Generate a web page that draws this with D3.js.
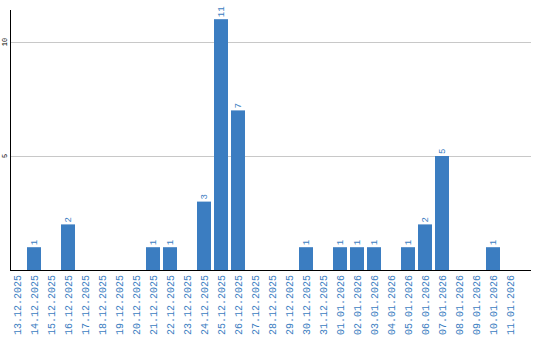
<!DOCTYPE html>
<html>
<head>
<meta charset="utf-8">
<script src="https://cdn.jsdelivr.net/npm/d3@7"></script>
<style>
  body { margin: 0; background: #fff; }
</style>
</head>
<body>
<svg width="540" height="340"></svg>
<script>
var dates = ["13.12.2025","14.12.2025","15.12.2025","16.12.2025","17.12.2025","18.12.2025",
  "19.12.2025","20.12.2025","21.12.2025","22.12.2025","23.12.2025","24.12.2025","25.12.2025",
  "26.12.2025","27.12.2025","28.12.2025","29.12.2025","30.12.2025","31.12.2025","01.01.2026",
  "02.01.2026","03.01.2026","04.01.2026","05.01.2026","06.01.2026","07.01.2026","08.01.2026",
  "09.01.2026","10.01.2026","11.01.2026"];
var counts = [0,1,0,2,0,0,0,0,1,1,0,3,11,7,0,0,0,1,0,1,1,1,0,1,2,5,0,0,1,0];
var yTicks = [5, 10];

var blue = "#3b7dc1";
var font = "Liberation Mono";
var svg = d3.select("svg");

var x = d3.scaleBand()
    .domain(dates)
    .range([8.5, 518.5])
    .paddingInner(3/17)
    .paddingOuter(3/34);
var y = d3.scaleLinear().domain([0, 260/22.8]).range([270, 10]);

// grid lines
svg.selectAll(".grid")
    .data(yTicks)
    .join("line")
    .attr("x1", 10.5).attr("x2", 531)
    .attr("y1", d => Math.round(y(d)) + 0.5)
    .attr("y2", d => Math.round(y(d)) + 0.5)
    .attr("stroke", "#c8c8c8");

var rows = counts.map((c, i) => ({d: dates[i], c: c})).filter(o => o.c > 0);

svg.selectAll(".bar")
    .data(rows)
    .join("rect")
    .attr("x", o => x(o.d))
    .attr("y", o => y(o.c))
    .attr("width", x.bandwidth())
    .attr("height", o => y(0) - y(o.c))
    .attr("fill", blue);

svg.selectAll(".val")
    .data(rows)
    .join("text")
    .attr("transform", o => "translate(" + (x(o.d) + x.bandwidth()/2) + "," + (y(o.c) - 2) + ")rotate(-90)")
    .attr("dy", "0.35em")
    .attr("text-anchor", "start")
    .attr("font-family", font)
    .attr("font-size", 9)
    .attr("fill", blue)
    .text(o => o.c);

// axes lines
svg.append("line")
    .attr("x1", 10.5).attr("x2", 10.5).attr("y1", 10).attr("y2", 270)
    .attr("stroke", "#000");
svg.append("line")
    .attr("x1", 10).attr("x2", 531).attr("y1", 270.5).attr("y2", 270.5)
    .attr("stroke", "#000");

svg.selectAll(".ytick")
    .data(yTicks)
    .join("text")
    .attr("transform", d => "translate(5," + y(d) + ")rotate(-90)")
    .attr("dy", "0.35em")
    .attr("text-anchor", "middle")
    .attr("font-family", font)
    .attr("font-size", 7)
    .attr("fill", "#000")
    .text(d => d);

svg.selectAll(".xlab")
    .data(dates)
    .join("text")
    .attr("transform", d => "translate(" + (x(d) + x.bandwidth()/2) + ",275)rotate(-90)")
    .attr("dy", "0.35em")
    .attr("text-anchor", "end")
    .attr("font-family", font)
    .attr("font-size", 10)
    .attr("fill", blue)
    .text(d => d);
</script>
</body>
</html>
